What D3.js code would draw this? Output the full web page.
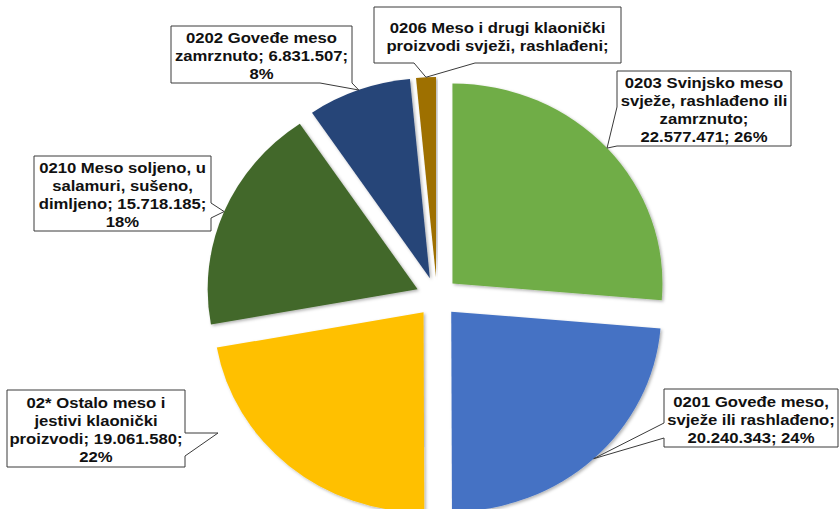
<!DOCTYPE html>
<html>
<head>
<meta charset="utf-8">
<script src="https://cdn.jsdelivr.net/npm/d3@7"></script>
<style>
  body { margin: 0; background: #fff; }
  svg { display: block; }
</style>
</head>
<body>
<div id="chart"></div>
<script>
// chart data
const categories = [
    '0203 Svinjsko meso svježe, rashlađeno ili zamrznuto',
    '0201 Goveđe meso, svježe ili rashlađeno',
    '02* Ostalo meso i jestivi klaonički proizvodi',
    '0210 Meso soljeno, u salamuri, sušeno, dimljeno',
    '0202 Goveđe meso zamrznuto',
    '0206 Meso i drugi klaonički proizvodi svježi, rashlađeni'
];
const values = [22577471, 20240343, 19061580, 15718185, 6831507, 1300000];
const colors = ['#70AD47', '#4472C4', '#FFC000', '#43682B', '#264478', '#9E7000'];
// label text as it is wrapped in the picture
const labelLines = [
    ['0203 Svinjsko meso', 'svježe, rashlađeno ili', 'zamrznuto;', '22.577.471; 26%'],
    ['0201 Goveđe meso,', 'svježe ili rashlađeno;', '20.240.343; 24%'],
    ['02* Ostalo meso i', 'jestivi klaonički', 'proizvodi; 19.061.580;', '22%'],
    ['0210 Meso soljeno, u', 'salamuri, sušeno,', 'dimljeno; 15.718.185;', '18%'],
    ['0202 Goveđe meso', 'zamrznuto; 6.831.507;', '8%'],
    ['0206 Meso i drugi klaonički', 'proizvodi svježi, rashlađeni;']
];

// layout
const width = 839, height = 509;
const cx = 437, cy = 297;
const radius = 200, stretchX = 1.05, explode = 20;
const fontSize = 14.5, textScaleX = 1.15, lineH = 18;

// callout boxes (position of the label boxes and where the pointer leaves them)
const callouts = [
    {x: 617, y: 71, w: 174, h: 75, side: 'left', b1: 107, b2: 146},
    {x: 664, y: 389, w: 174, h: 58, side: 'left', b1: 423, b2: 438},
    {x: 7, y: 390, w: 178, h: 77, side: 'right', b1: 433, b2: 456, tip: [218, 433]},
    {x: 34, y: 156, w: 177, h: 75, side: 'right', b1: 203, b2: 218},
    {x: 171, y: 26, w: 181, h: 57, side: 'bottom', b1: 320, b2: 352},
    {x: 374, y: 7, w: 247, h: 56, side: 'bottom', b1: 414, b2: 475}
];

const svg = d3.select('#chart').append('svg')
    .attr('width', width)
    .attr('height', height);

const defs = svg.append('defs');
defs.append('filter')
    .attr('id', 'shadow')
    .attr('x', '-10%').attr('y', '-10%')
    .attr('width', '120%').attr('height', '120%')
    .append('feDropShadow')
        .attr('dx', 1.5).attr('dy', 1.5)
        .attr('stdDeviation', 1.5)
        .attr('flood-color', '#000')
        .attr('flood-opacity', 0.3);

const pie = d3.pie().sort(null).value(function(d) { return d; });
const arcs = pie(values);

const arc = d3.arc().innerRadius(0).outerRadius(radius);

// pie is a little wider than tall in the picture
const pieG = svg.append('g')
    .attr('transform', 'translate(' + cx + ',' + cy + ') scale(' + stretchX + ',1)');

pieG.selectAll('path')
    .data(arcs)
    .enter().append('path')
        .attr('d', arc)
        .attr('fill', function(d, i) { return colors[i]; })
        .attr('filter', 'url(#shadow)')
        .attr('transform', function(d) {
            const a = (d.startAngle + d.endAngle) / 2;
            return 'translate(' + (Math.sin(a) * explode) + ',' + (-Math.cos(a) * explode) + ')';
        });

// point on the outer edge of an exploded slice, at its middle angle
function edgePoint(d) {
    const a = (d.startAngle + d.endAngle) / 2;
    const r = radius + explode;
    return [cx + Math.sin(a) * r * stretchX, cy - Math.cos(a) * r];
}

function calloutPath(c, tip) {
    const x0 = c.x, y0 = c.y, x1 = c.x + c.w, y1 = c.y + c.h;
    let p = 'M' + x0 + ',' + y0 + 'H' + x1;
    if (c.side === 'right') {
        p += 'V' + c.b1 + 'L' + tip[0] + ',' + tip[1] + 'L' + x1 + ',' + c.b2;
    }
    p += 'V' + y1;
    if (c.side === 'bottom') {
        p += 'H' + c.b2 + 'L' + tip[0] + ',' + tip[1] + 'L' + c.b1 + ',' + y1;
    }
    p += 'H' + x0;
    if (c.side === 'left') {
        p += 'V' + c.b2 + 'L' + tip[0] + ',' + tip[1] + 'L' + x0 + ',' + c.b1;
    }
    return p + 'Z';
}

const labels = svg.append('g').attr('class', 'labels')
    .selectAll('g')
    .data(arcs)
    .enter().append('g');

labels.append('path')
    .attr('d', function(d, i) {
        const c = callouts[i];
        return calloutPath(c, c.tip || edgePoint(d));
    })
    .attr('fill', '#fff')
    .attr('stroke', '#3a3a3a')
    .attr('stroke-width', 1);

labels.each(function(d, i) {
    const c = callouts[i];
    const lines = labelLines[i];
    const firstCenter = c.y + c.h / 2 - (lines.length - 1) * lineH / 2 + 1.5;
    const g = d3.select(this);
    lines.forEach(function(line, k) {
        g.append('text')
            .attr('transform', 'translate(' + (c.x + c.w / 2) + ',' + (firstCenter + k * lineH + 5) + ') scale(' + textScaleX + ',1)')
            .attr('text-anchor', 'middle')
            .style('font-family', '"Liberation Sans", Arial, sans-serif')
            .style('font-weight', 'bold')
            .style('font-size', fontSize + 'px')
            .style('fill', '#111')
            .text(line);
    });
});
</script>
</body>
</html>
